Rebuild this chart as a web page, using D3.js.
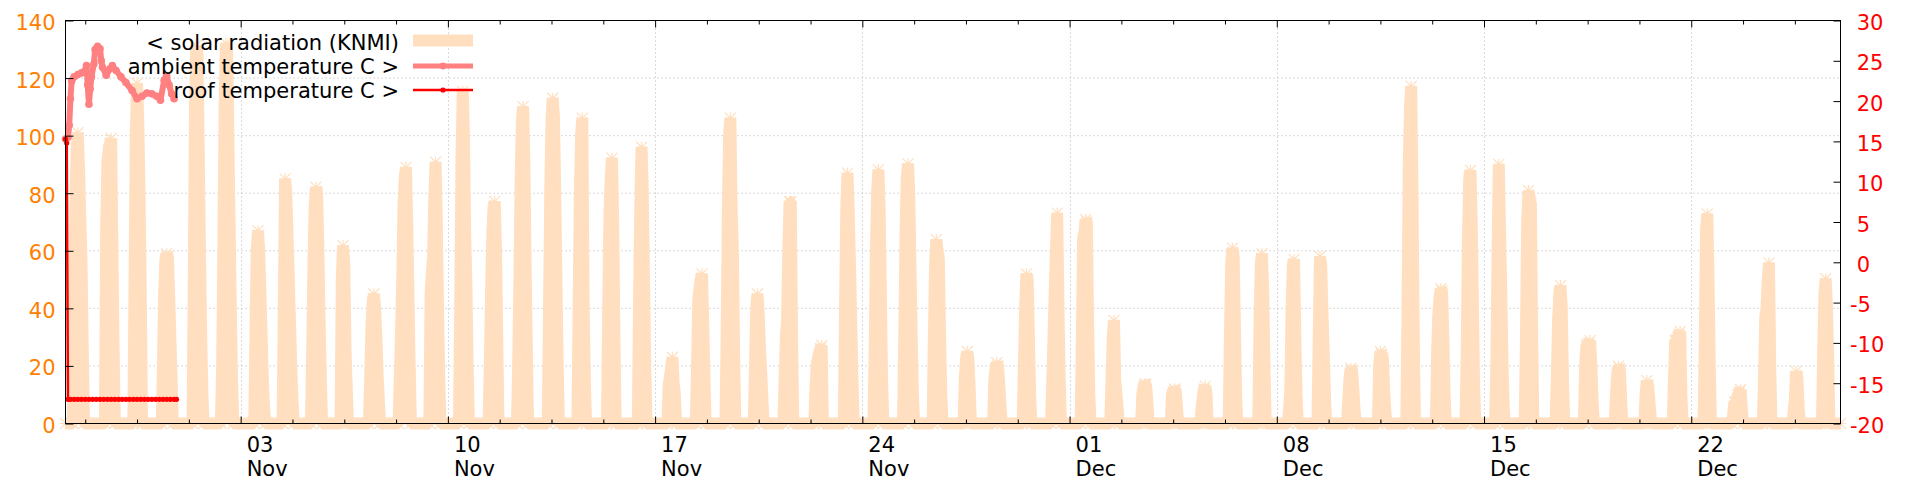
<!DOCTYPE html>
<html><head><meta charset="utf-8">
<script src="https://cdn.jsdelivr.net/npm/d3@7"></script>
<style>
html,body{margin:0;padding:0;background:#fff;}
svg{display:block;font-family:"DejaVu Sans",sans-serif;}
</style></head><body>
<svg id="chart" width="1920" height="480"></svg>
<script>
// ---------------- data ----------------
const startTime = "2012-10-28T02:00:00Z";
const endTime   = "2012-12-27T01:00:00Z";
const firstDay  = "2012-10-28";

// solar radiation (KNMI): per day, first hour (zero) and hourly values
const solarStartHour = [8,10,9,8,9,8,11,10,9,9, 8,8,9,9,9,8,9,9,9,10, 10,9,9,8,8,9,9,9,9,9,
                        10,10,10,9,9,9,10,10,10,9, 9,9,9,9,10,9,9,9,9,9, 10,9,10,10,9,10,9,10,10,10];
const solarHourly = [
  [0,35,75,95,101,88,70,56,25,0],
  [0,68,91,95,97,99,60,25,0],
  [0,50,100,118.2,105,80,46,0],
  [0,20,45,57,59,58,45,30,15,0],
  [0,50,110,131.3,128,95,60,30,10,0],
  [0,20,60,110,132.1,130,100,70,40,15,0],
  [0,30,60,67,60,45,30,15,5,0],
  [0,40,85,80,65,50,35,20,8,0],
  [0,25,55,75,82.1,80,60,35,15,0],
  [0,50,61.8,55,25.4,12,0],
  [0,15,32.9,42,45,40,30,17.3,8,0],
  [0,15,31.2,50,75,85,89,70,45,20,0],
  [0,45,52,57.8,78,90.8,70,40,15,0],
  [0,40,90,115.4,100,65.9,48.5,20,0],
  [0,20,45,65,75,77.1,60,30,0],
  [0,20,50,85,105,110.1,90,55,25,0],
  [0,40,80,105,113,106,80,50,20,0],
  [0,40,80,100,106.1,42.7,15,0],
  [0,40,72.8,85,92.2,70,30,0],
  [0,43.3,75,96,80,50,20,0],
  [0,13,16,19,23,14,10,0],
  [0,20,42.7,47,50,52,35,15,0],
  [0,30,75,100,106.1,75,60.1,25,0],
  [0,20,40,45,38,26,18,8,0],
  [0,15,30,35.8,60,77.1,77,30,0],
  [0,12,20,22.5,24,26,27.1,0],
  [0,40,75,87,72.3,55,35,15,0],
  [0,25,60,80,88.1,75,45,15,0],
  [0,30,65,85,90.2,80,55,30,10,0],
  [0,30,55,63.9,60,57.2,30,10,0],
  [0,15,22,25,22,12,0],
  [0,15,19,21.1,20,13.8,6,0],
  [0,20,40,52,50,30,10,0],
  [0,15,30,46.2,60,73.1,40,15,0],
  [0,30,64.2,66,70.9,70,35,10,0],
  [0,15,30,35.8,14.9,10,5,0],
  [0,10,13,13.8,13.5,8,0],
  [0,10.1,11,12,11.5,6,0],
  [0,5,9,12,13,10,0],
  [0,30,55,60.9,58,35,10,0],
  [0,35,55,59,45,20,0],
  [0,5,12,40,55,57,30,10,0],
  [0,30,58,55,38.7,25,10,0],
  [0,8,16,19.2,18.5,12,5,0],
  [0,20,25,24,22.7,12,4,0],
  [0,40,90,110,117.1,80,30,0],
  [0,25,38.1,44,46.8,46,30,10,0],
  [0,25,65,85,87.9,70,40,12,0],
  [0,20,60,90,65.9,45,20,5,0],
  [0,30,70,80.9,78,76.3,30,0],
  [0,15,35,45,47.9,40,15,0],
  [0,20,27.1,27.5,28,28.8,20,8,0],
  [0,10,17,19.9,19,10,0],
  [0,10,14.9,13,8,3,0],
  [0,15,28.8,29,30,31,32,10,0],
  [0,30,67,72.8,50,20,0],
  [0,3,7.4,7.4,8,10,11,11.8,5,0],
  [0,15,36.9,40,50,55.8,20,0],
  [0,4,8,18.1,16,6,0],
  [0,25,45,50.3,40,23,0]
];

// ambient temperature (C), hours after start
const ambientHours  = [0,2,3,4,5,7,10,13,16,17,18,19,20,21,23,24,26,28,29,30,33,36,38,41,45,49,54,58,62,66,70,74,77,80,82,84,86,88];
const ambientValues = [15.3,15.5,17.0,20.3,22.5,23.0,23.3,23.5,23.8,24.4,22.0,19.6,21.5,23.0,24.6,26.4,26.8,26.5,25.0,24.2,23.2,24.0,24.4,23.8,23.0,22.3,21.3,20.3,20.6,21.0,20.9,20.6,20.1,22.6,23.1,22.0,20.9,20.3];

// roof temperature (C), hours after start
const roofHours  = [0,1,2,4,7,10,13,16,19,22,25,28,31,34,37,40,43,46,49,52,55,58,61,64,67,70,73,76,79,82,85,88,90];
const roofValues = [15.3,14.8,-17.0,-17.0,-17.0,-17.0,-17.0,-17.0,-17.0,-17.0,-17.0,-17.0,-17.0,-17.0,-17.0,-17.0,-17.0,-17.0,-17.0,-17.0,-17.0,-17.0,-17.0,-17.0,-17.0,-17.0,-17.0,-17.0,-17.0,-17.0,-17.0,-17.0,-17.0];

// ticks / labels
const xTickDates  = ["2012-11-03","2012-11-10","2012-11-17","2012-11-24","2012-12-01","2012-12-08","2012-12-15","2012-12-22"];
const yLeftTicks  = [0,20,40,60,80,100,120,140];
const yRightTicks = [-20,-15,-10,-5,0,5,10,15,20,25,30];
const legendLabels = ["< solar radiation (KNMI)", "ambient temperature C >", "roof temperature C >"];

// ---------------- chart ----------------
const peach = "#ffdfbf", orange = "#ff8000", pink = "#ff8080", red = "#ff0000";
const FONT = 21;
const parseT = d3.utcParse("%Y-%m-%dT%H:%M:%SZ");
const parseD = d3.utcParse("%Y-%m-%d");
const t0 = parseT(startTime), t1 = parseT(endTime), day0 = parseD(firstDay);

const x  = d3.scaleUtc().domain([t0, t1]).range([65.5, 1840.5]);
const yL = d3.scaleLinear().domain([0, 140]).range([423.5, 20.5]);
const yR = d3.scaleLinear().domain([-20, 30]).range([423.5, 20.5]);
const [X0, X1] = x.range(), [Y0, Y1] = yL.range();

const solar = [{t: t0, v: 0}];
solarHourly.forEach((vals, d) => vals.forEach((v, i) =>
  solar.push({t: d3.utcHour.offset(day0, d * 24 + solarStartHour[d] + i), v})));
solar.push({t: t1, v: 0});
const ambient = ambientHours.map((h, i) => ({t: d3.utcHour.offset(t0, h), v: ambientValues[i]}));
const roof = roofHours.map((h, i) => ({t: d3.utcHour.offset(t0, h), v: roofValues[i]}));

const majors = xTickDates.map(parseD);
const minors = d3.range(-4, 4 * majors.length)
  .filter(k => k % 4 !== 0)
  .map(k => d3.utcHour.offset(majors[0], k * 42))
  .filter(t => t > t0 && t < t1);

const svg = d3.select("#chart");

// grid (behind)
const grid = svg.append("g").attr("stroke", "#c0c0c0").attr("stroke-width", 1).attr("stroke-dasharray", "1.2,2.8");
grid.selectAll("line.h").data(yLeftTicks.filter(v => v > 0 && v < 140)).join("line").attr("class", "h")
  .attr("x1", X0).attr("x2", X1).attr("y1", d => yL(d)).attr("y2", d => yL(d));
grid.selectAll("line.v").data(majors).join("line").attr("class", "v")
  .attr("x1", d => Math.round(x(d)) + 0.5).attr("x2", d => Math.round(x(d)) + 0.5).attr("y1", Y1).attr("y2", Y0);

// solar radiation
svg.append("path").datum(solar)
  .attr("d", d3.area().x(d => x(d.t)).y0(yL(0)).y1(d => yL(d.v)))
  .attr("fill", peach);
svg.append("path").datum(solar)
  .attr("d", d3.line().x(d => x(d.t)).y(d => yL(d.v)))
  .attr("fill", "none").attr("stroke", peach).attr("stroke-width", 12)
  .attr("stroke-linejoin", "bevel").attr("stroke-linecap", "butt");
const starPath = "M-5.5,0H5.5M0,-5.5V5.5M-5.5,-5.5L5.5,5.5M-5.5,5.5L5.5,-5.5";
svg.append("g").selectAll("path").data(solar).join("path")
  .attr("transform", d => `translate(${x(d.t)},${yL(d.v)})`)
  .attr("d", starPath).attr("stroke", peach).attr("stroke-width", 1.2).attr("fill", "none");

// ambient temperature
svg.append("path").datum(ambient)
  .attr("d", d3.line().x(d => x(d.t)).y(d => yR(d.v)))
  .attr("fill", "none").attr("stroke", pink).attr("stroke-width", 6).attr("stroke-linejoin", "round");
svg.append("g").selectAll("circle").data(ambient).join("circle")
  .attr("cx", d => x(d.t)).attr("cy", d => yR(d.v)).attr("r", 3.8).attr("fill", pink);

// roof temperature
svg.append("path").datum(roof)
  .attr("d", d3.line().x(d => x(d.t)).y(d => yR(d.v)))
  .attr("fill", "none").attr("stroke", red).attr("stroke-width", 2.5);
svg.append("g").selectAll("circle").data(roof).join("circle")
  .attr("cx", d => x(d.t)).attr("cy", d => yR(d.v)).attr("r", 2.6).attr("fill", red);

// axes
function styleAxis(g) {
  g.select(".domain").remove();
  g.attr("font-size", FONT).attr("font-family", "DejaVu Sans");
}
const fmtDay = d3.utcFormat("%d"), fmtMon = d3.utcFormat("%b");

const bottomAx = svg.append("g").attr("transform", `translate(0,${Y0})`)
  .call(d3.axisBottom(x).tickValues(majors).tickSizeInner(-7).tickSizeOuter(0).tickFormat(""))
  .call(styleAxis);
bottomAx.selectAll(".tick text").each(function(d) {
  const t = d3.select(this).attr("y", null).attr("dy", null).attr("text-anchor", "start").attr("fill", "#000");
  t.append("tspan").attr("x", 5.5).attr("y", 28).text(fmtDay(d));
  t.append("tspan").attr("x", 5.5).attr("y", 52.5).text(fmtMon(d));
});
svg.append("g").attr("transform", `translate(0,${Y0})`)
  .call(d3.axisBottom(x).tickValues(minors).tickSizeInner(-4).tickSizeOuter(0).tickFormat(""))
  .call(styleAxis);
svg.append("g").attr("transform", `translate(0,${Y1})`)
  .call(d3.axisTop(x).tickValues(majors).tickSizeInner(-7).tickSizeOuter(0).tickFormat(""))
  .call(styleAxis);
svg.append("g").attr("transform", `translate(0,${Y1})`)
  .call(d3.axisTop(x).tickValues(minors).tickSizeInner(-4).tickSizeOuter(0).tickFormat(""))
  .call(styleAxis);

const leftAx = svg.append("g").attr("transform", `translate(${X0},0)`)
  .call(d3.axisLeft(yL).tickValues(yLeftTicks).tickSizeInner(-8).tickSizeOuter(0).tickPadding(10).tickFormat(d => String(d)))
  .call(styleAxis);
leftAx.selectAll(".tick text").attr("fill", orange).attr("dy", "0.43em");

const rightAx = svg.append("g").attr("transform", `translate(${X1},0)`)
  .call(d3.axisRight(yR).tickValues(yRightTicks).tickSizeInner(-7).tickSizeOuter(0).tickPadding(9.5)
        .tickFormat(d => d < 0 ? String(d) : "\u00a0" + d))
  .call(styleAxis);
rightAx.selectAll(".tick text").attr("fill", red).attr("dy", "0.43em");

// border
svg.append("rect").attr("x", X0).attr("y", Y1).attr("width", X1 - X0).attr("height", Y0 - Y1)
  .attr("fill", "none").attr("stroke", "#000").attr("stroke-width", 1);

// legend (drawn last, on top)
const legend = svg.append("g").attr("font-size", FONT).attr("font-family", "DejaVu Sans");
const rowY = [40.5, 66, 90];
const rowBase = [49.7, 74, 98.3];
legend.selectAll("text").data(legendLabels).join("text")
  .attr("x", 399).attr("y", (d, i) => rowBase[i]).attr("text-anchor", "end").attr("fill", "#000")
  .style("white-space", "pre").text(d => d);
legend.append("line").attr("x1", 413).attr("x2", 473).attr("y1", rowY[0]).attr("y2", rowY[0])
  .attr("stroke", peach).attr("stroke-width", 12);
legend.append("line").attr("x1", 413).attr("x2", 473).attr("y1", rowY[1]).attr("y2", rowY[1])
  .attr("stroke", pink).attr("stroke-width", 5);
legend.append("circle").attr("cx", 443).attr("cy", rowY[1]).attr("r", 3.4).attr("fill", pink);
legend.append("line").attr("x1", 413).attr("x2", 473).attr("y1", rowY[2]).attr("y2", rowY[2])
  .attr("stroke", red).attr("stroke-width", 2.5);
legend.append("circle").attr("cx", 443).attr("cy", rowY[2]).attr("r", 2.6).attr("fill", red);
</script>
</body></html>
